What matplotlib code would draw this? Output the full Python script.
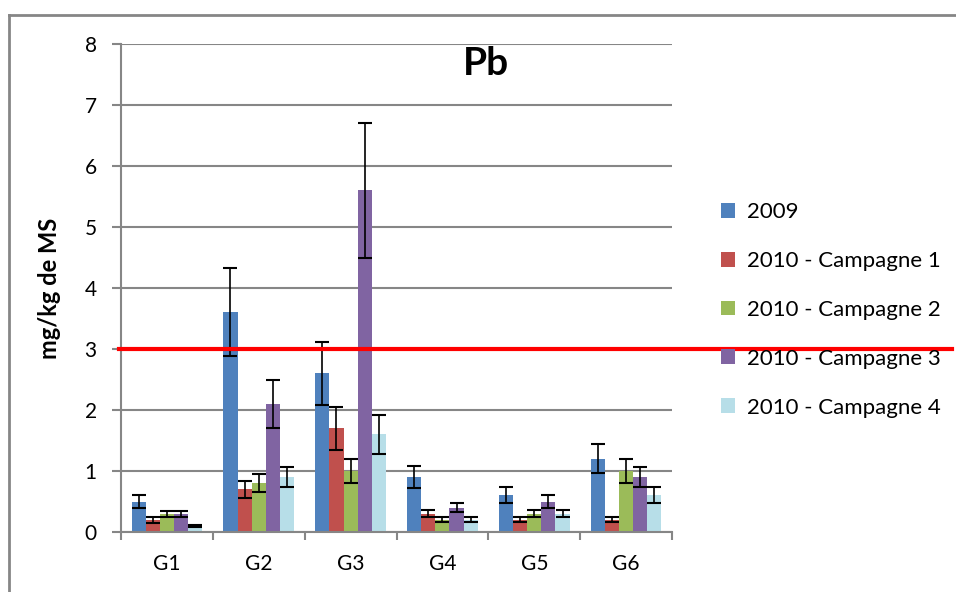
import numpy as np
import matplotlib
matplotlib.use("Agg")
from matplotlib import pyplot as plt
from matplotlib.lines import Line2D
import matplotlib.transforms as mtransforms

plt.rcParams['font.family'] = ['Lato', 'DejaVu Sans']

groups = ["G1", "G2", "G3", "G4", "G5", "G6"]
series = ["2009", "2010 - Campagne 1", "2010 - Campagne 2",
          "2010 - Campagne 3", "2010 - Campagne 4"]
colors = ["#4F81BD", "#C0504D", "#9BBB59", "#8064A2", "#B7DEE8"]

v2009 = [0.5, 3.6, 2.6, 0.9, 0.6, 1.2]
v_c1 = [0.2, 0.7, 1.7, 0.3, 0.2, 0.2]
v_c2 = [0.3, 0.8, 1.0, 0.2, 0.3, 1.0]
v_c3 = [0.3, 2.1, 5.6, 0.4, 0.5, 0.9]
v_c4 = [0.1, 0.9, 1.6, 0.2, 0.3, 0.6]

e2009 = [0.1, 0.72, 0.52, 0.18, 0.13, 0.24]
e_c1 = [0.05, 0.14, 0.35, 0.06, 0.04, 0.04]
e_c2 = [0.05, 0.15, 0.2, 0.04, 0.06, 0.19]
e_c3 = [0.05, 0.4, 1.1, 0.07, 0.1, 0.17]
e_c4 = [0.02, 0.17, 0.32, 0.04, 0.06, 0.13]

limit = 3

values = [v2009, v_c1, v_c2, v_c3, v_c4]
errors = [e2009, e_c1, e_c2, e_c3, e_c4]

fig = plt.figure(figsize=(9.56, 5.92), dpi=100)
ax = fig.add_axes([121 / 956, 1 - 532 / 592, (672 - 121) / 956, (532 - 44) / 592])

x = np.arange(len(groups))
w = 0.154
for i, (vals, errs) in enumerate(zip(values, errors)):
    pos = x + (i - 2) * w
    ax.bar(pos, vals, w, color=colors[i], label=series[i], zorder=2)
    ax.errorbar(pos, vals, yerr=errs, fmt="none", ecolor="black",
                elinewidth=1.2, capsize=5, capthick=1.5, zorder=3)

ax.set_xlim(-0.5, len(groups) - 0.5)
ax.set_ylim(0, 8)
ax.set_yticks(range(0, 9))
ax.set_xticks(x)
ax.set_xticklabels(groups)
ax.set_xticks(np.arange(-0.5, len(groups)), minor=True)
ax.tick_params(axis="x", which="major", length=0, pad=16, labelsize=15)
ax.tick_params(axis="x", which="minor", length=6, width=1.5, color="#868686")
ax.tick_params(axis="y", length=6.5, width=1.5, color="#868686", labelsize=15, pad=11)
ax.grid(axis="y", color="#868686", linewidth=1.5, zorder=0)
for s in ["top", "right"]:
    ax.spines[s].set_visible(False)
for s in ["left", "bottom"]:
    ax.spines[s].set_color("#868686")
    ax.spines[s].set_linewidth(1.5)

ax.set_ylabel("mg/kg de MS", fontsize=17, fontweight="bold")
ax.yaxis.set_label_coords((61 - 121) / 551, 0.5)
fig.text(463 / 956, 1 - 46 / 592, "Pb", fontsize=28, fontweight="bold",
         ha="left", va="top")

# red limit line running across the whole chart
trans = mtransforms.blended_transform_factory(fig.transFigure, ax.transData)
ax.add_line(Line2D([119 / 956, 952 / 956], [limit, limit], transform=trans,
                   color="#FF0000", linewidth=3, clip_on=False, zorder=4))

handles, labels = ax.get_legend_handles_labels()
fig.legend(handles, labels, loc="upper left", bbox_to_anchor=(701 / 956, 1 - 182 / 592),
           frameon=False, fontsize=16, handlelength=0.65, handleheight=0.65,
           handletextpad=0.5, labelspacing=1.3)

# chart border (left and top visible)
fig.add_artist(Line2D([9 / 956, 9 / 956], [0, 1 - 15 / 592], transform=fig.transFigure,
                      color="#868686", linewidth=2))
fig.add_artist(Line2D([9 / 956, 1], [1 - 15 / 592, 1 - 15 / 592], transform=fig.transFigure,
                      color="#868686", linewidth=2))

fig.savefig("out.png", dpi=100)
